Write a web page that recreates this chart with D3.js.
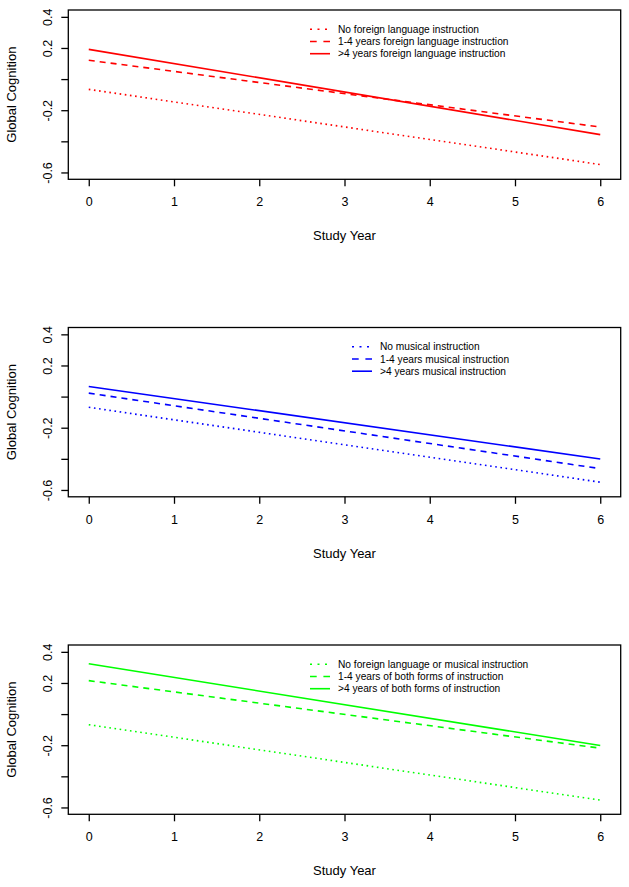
<!DOCTYPE html>
<html>

<head>
    <meta charset="utf-8">
    <script src="https://cdnjs.cloudflare.com/ajax/libs/d3/7.8.5/d3.min.js"></script>
    <style>
        body {
            margin: 0;
            background: white;
            font-family: "Liberation Sans", Arial, Helvetica, sans-serif;
        }

        svg {
            display: block;
        }

        .tick text {
            font-family: "Liberation Sans", Arial, Helvetica, sans-serif;
            font-size: 12.5px;
            fill: black;
        }
    </style>
</head>

<body>
    <svg id="chart" width="629" height="887"></svg>
    <script>
        // study years where each model line is given
        var years = [0, 6];
        var xTicks = [0, 1, 2, 3, 4, 5, 6];
        var yTicks = [-0.6, -0.4, -0.2, 0, 0.2, 0.4];
        // R drops the labels that would collide
        var yTickLabels = ["-0.6", "", "-0.2", "", "0.2", "0.4"];

        // panel 1: foreign language
        var langNone = [-0.066, -0.549];
        var langSome = [0.121, -0.308];
        var langMore = [0.191, -0.357];
        var langLabels = ["No foreign language instruction", "1-4 years foreign language instruction", ">4 years foreign language instruction"];

        // panel 2: music
        var musicNone = [-0.069, -0.550];
        var musicSome = [0.022, -0.463];
        var musicMore = [0.065, -0.401];
        var musicLabels = ["No musical instruction", "1-4 years musical instruction", ">4 years musical instruction"];

        // panel 3: both
        var bothNone = [-0.068, -0.553];
        var bothSome = [0.215, -0.219];
        var bothMore = [0.323, -0.202];
        var bothLabels = ["No foreign language or musical instruction", "1-4 years of both forms of instruction", ">4 years of both forms of instruction"];

        var xTitle = "Study Year";
        var yTitle = "Global Cognition";

        var panels = [
            { top: 0, color: "#ff0000", series: [langNone, langSome, langMore], labels: langLabels, legendX: 310 },
            { top: 317.5, color: "#0000ff", series: [musicNone, musicSome, musicMore], labels: musicLabels, legendX: 352 },
            { top: 635, color: "#00ff00", series: [bothNone, bothSome, bothMore], labels: bothLabels, legendX: 310 }
        ];

        var dashes = ["1.6,3.6", "6,5", null];
        var legendDashes = ["2,5.5", "6.7,6.7", null];

        var box = { left: 68.3, right: 620.7, top: 10, bottom: 179.3 };

        // R style 4% padding on both axes
        var x = d3.scaleLinear().domain([-0.24, 6.24]).range([box.left, box.right]);
        var y = d3.scaleLinear().domain([-0.644, 0.444]).range([box.bottom, box.top]);

        var line = d3.line()
            .x(function(d, i) { return x(years[i]); })
            .y(function(d) { return y(d); });

        var svg = d3.select("#chart");

        panels.forEach(function(p) {
            drawPanel(svg.append("g").attr("transform", "translate(0," + p.top + ")"), p);
        });

        function drawPanel(g, p) {
            // plot box
            g.append("rect")
                .attr("x", box.left)
                .attr("y", box.top)
                .attr("width", box.right - box.left)
                .attr("height", box.bottom - box.top)
                .attr("fill", "none")
                .attr("stroke", "black")
                .attr("stroke-width", 1.3);

            var xAxis = g.append("g")
                .attr("transform", "translate(0," + box.bottom + ")")
                .call(d3.axisBottom(x).tickValues(xTicks).tickSize(7).tickPadding(11).tickFormat(d3.format("d")));
            xAxis.select(".domain").remove();
            xAxis.selectAll(".tick line").attr("stroke-width", 1.3);
            xAxis.selectAll(".tick text").attr("dy", "0.72em");

            var yAxis = g.append("g")
                .attr("transform", "translate(" + box.left + ",0)")
                .call(d3.axisLeft(y).tickValues(yTicks).tickSize(7).tickFormat(function(d, i) { return yTickLabels[i]; }));
            yAxis.select(".domain").remove();
            yAxis.selectAll(".tick line").attr("stroke-width", 1.3);
            yAxis.selectAll(".tick text")
                .attr("transform", "rotate(-90)")
                .attr("x", 0)
                .attr("y", -16.6)
                .attr("dy", null)
                .attr("text-anchor", "middle");

            // axis titles
            g.append("text")
                .attr("x", (box.left + box.right) / 2)
                .attr("y", 240)
                .attr("text-anchor", "middle")
                .style("font-size", "13px")
                .text(xTitle);

            g.append("text")
                .attr("transform", "translate(16," + (box.top + box.bottom) / 2 + ") rotate(-90)")
                .attr("text-anchor", "middle")
                .style("font-size", "13px")
                .text(yTitle);

            // model lines
            p.series.forEach(function(s, i) {
                g.append("path")
                    .datum(s)
                    .attr("d", line)
                    .attr("fill", "none")
                    .attr("stroke", p.color)
                    .attr("stroke-width", 1.6)
                    .attr("stroke-dasharray", dashes[i]);
            });

            // legend
            var leg = g.append("g");
            p.labels.forEach(function(label, i) {
                var ly = 29.3 + i * 12.2;
                leg.append("line")
                    .attr("x1", p.legendX)
                    .attr("x2", p.legendX + 20)
                    .attr("y1", ly)
                    .attr("y2", ly)
                    .attr("stroke", p.color)
                    .attr("stroke-width", 1.6)
                    .attr("stroke-dasharray", legendDashes[i]);
                leg.append("text")
                    .attr("x", p.legendX + 28)
                    .attr("y", ly)
                    .attr("dy", "0.36em")
                    .style("font-size", "10.2px")
                    .text(label);
            });
        }
    </script>
</body>

</html>
